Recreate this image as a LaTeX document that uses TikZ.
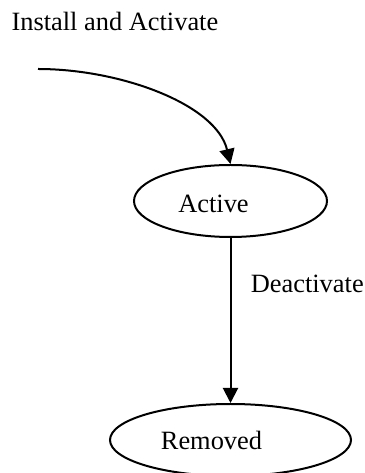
\documentclass[tikz,border=0pt]{standalone}
\usepackage{fontspec}
\setmainfont{Liberation Serif}
\usetikzlibrary{arrows.meta,shapes.geometric}

\begin{document}
\begin{tikzpicture}[x=1pt,y=1pt,
  state/.style={draw,ellipse,line width=2pt,inner sep=0pt},
  trans/.style={line width=2pt,-{Triangle[length=15pt,width=15pt]}},
  every node/.append style={font=\fontsize{26.4}{30}\selectfont}]
 \useasboundingbox (0,0) rectangle (364,473);
 % states
 \node[state,minimum width=193pt,minimum height=72pt,
   label={[name=activetxt,xshift=-17pt,yshift=-3pt]center:Active}]
   (active) at (230.5,272) {};
 \node[state,minimum width=241pt,minimum height=72pt,
   label={[name=removedtxt,xshift=-19pt]center:Removed}]
   (removed) at (230.5,33) {};
 % initial transition
 \coordinate (start) at (38,404);
 \node[anchor=base west] (install) at (8,442) {Install and Activate};
 \draw[trans] (start) .. controls +(82,0) and +(-14.5,60) .. (active.north);
 % removal
 \draw[trans] (active) -- (removed)
   node[pos=.33,anchor=base west,xshift=16pt] (deact) {Deactivate};
\end{tikzpicture}
\end{document}
